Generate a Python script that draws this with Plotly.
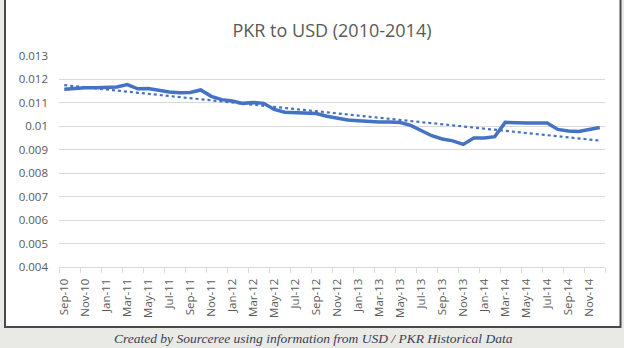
import numpy as np
import plotly.graph_objects as go

months = ["Sep-10","Oct-10","Nov-10","Dec-10","Jan-11","Feb-11","Mar-11","Apr-11","May-11","Jun-11",
          "Jul-11","Aug-11","Sep-11","Oct-11","Nov-11","Dec-11","Jan-12","Feb-12","Mar-12","Apr-12",
          "May-12","Jun-12","Jul-12","Aug-12","Sep-12","Oct-12","Nov-12","Dec-12","Jan-13","Feb-13",
          "Mar-13","Apr-13","May-13","Jun-13","Jul-13","Aug-13","Sep-13","Oct-13","Nov-13","Dec-13",
          "Jan-14","Feb-14","Mar-14","Apr-14","May-14","Jun-14","Jul-14","Aug-14","Sep-14","Oct-14",
          "Nov-14","Dec-14"]
rate = [0.01158,0.01162,0.01165,0.01165,0.01166,0.01168,0.01178,0.01160,0.01161,0.01153,
        0.01146,0.01143,0.01144,0.01155,0.01128,0.01114,0.01108,0.01098,0.01102,0.01098,
        0.01072,0.01060,0.01059,0.01059,0.01055,0.01043,0.01035,0.01027,0.01024,0.01020,
        0.01019,0.01018,0.01016,0.01004,0.00984,0.00960,0.00946,0.00938,0.00923,0.00950,
        0.00950,0.00956,0.01017,0.01014,0.01014,0.01014,0.01014,0.00987,0.00980,0.00978,
        0.00985,0.00995]
y_ticks = [0.004,0.005,0.006,0.007,0.008,0.009,0.010,0.011,0.012,0.013]
y_tick_labels = ["0.004","0.005","0.006","0.007","0.008","0.009","0.01","0.011","0.012","0.013"]

x = np.arange(len(months))
coef = np.polyfit(x, rate, 1)
trend = np.polyval(coef, x)

BLUE = "#4472C4"
W, H = 624, 348
L, R, T, B = 59, 605, 56, 266.7
pw, ph = R - L, B - T

def px(xp):
    return (xp - L) / pw

def py(yp):
    return (B - yp) / ph

fig = go.Figure()
fig.add_trace(go.Scatter(x=x, y=trend, mode="lines",
                         line=dict(color=BLUE, width=2.2, dash="dot"), hoverinfo="skip"))
fig.add_trace(go.Scatter(x=x, y=rate, mode="lines",
                         line=dict(color=BLUE, width=3.5)))

fig.add_shape(type="rect", xref="paper", yref="paper",
              x0=px(5), x1=px(620.5), y0=py(326.5), y1=py(-2),
              fillcolor="white", line=dict(color="#4a4a4a", width=2), layer="below")

fig.update_layout(
    width=W, height=H,
    margin=dict(l=L, r=W - R, t=T, b=H - B, pad=0),
    paper_bgcolor="#e9e9e6",
    plot_bgcolor="white",
    showlegend=False,
    font=dict(family="Open Sans", color="#595959"),
    title=dict(text="PKR to USD (2010-2014)", x=0.5, xref="paper", xanchor="center",
               y=1 - 31 / H, yanchor="middle",
               font=dict(family="Open Sans", size=18, color="#595959")),
)
fig.update_xaxes(
    range=[-0.5, len(months) - 0.5],
    tickmode="array", tickvals=x[::2], ticktext=months[::2], tickangle=-90,
    ticks="", showgrid=False, zeroline=False,
    showline=True, linecolor="#d9d9d9", linewidth=1,
    tickfont=dict(family="Open Sans", size=11.5, color="#595959"),
    ticklabelstandoff=6,
    minor=dict(tick0=-0.5, dtick=2, ticks="outside", ticklen=5, tickcolor="#d9d9d9", showgrid=False),
)
fig.update_yaxes(
    range=[0.004, 0.013],
    tickmode="array", tickvals=y_ticks, ticktext=y_tick_labels,
    ticks="", showgrid=True, gridcolor="#d9d9d9", gridwidth=1, zeroline=False,
    showline=False,
    tickfont=dict(family="Open Sans", size=11.5, color="#595959"),
    ticklabelstandoff=10,
)
fig.add_annotation(
    text="<i>Created by Sourceree using information from USD / PKR Historical Data</i>",
    xref="paper", yref="paper", x=px(313), y=py(338), xanchor="center", yanchor="middle",
    showarrow=False, font=dict(family="Liberation Serif", size=13.5, color="#3b3f55"),
)

fig.write_html("out.html")
